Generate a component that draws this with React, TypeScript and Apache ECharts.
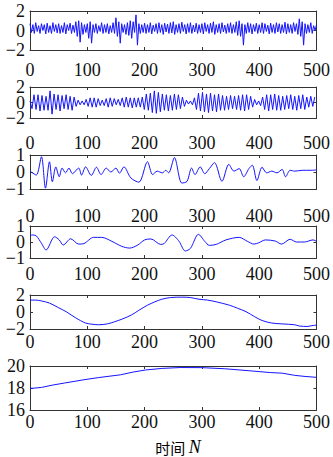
import React, { useEffect, useRef } from "react";
import * as echarts from "echarts";

// ---- data ----
const xRange = [0, 500, 100];

const imf1Step = 2.5;
const imf1 = [
  0.7,-0.2,0.6,-0.3,0.8,-0.1,0.5,-0.3,0.7,0.0,0.6,-0.35,0.75,-0.2,0.5,-0.3,0.8,-0.1,0.6,-0.25,
  0.7,-0.3,0.5,-0.2,0.8,-0.35,0.6,0.0,0.75,-0.3,0.55,-0.2,0.9,-0.6,1.0,-1.2,0.8,-0.4,0.6,-0.2,
  0.7,-0.8,0.9,-1.3,0.6,-0.2,0.7,-0.3,0.5,-0.1,0.8,-0.3,0.6,-0.2,0.7,-0.35,0.5,-0.2,0.8,-0.3,
  1.3,-0.6,0.9,-1.3,0.7,-0.2,0.6,-0.4,0.8,-0.5,1.0,-0.8,0.9,-0.2,1.6,-1.5,0.7,-0.3,0.6,-0.2,
  0.75,-0.3,0.6,-0.2,0.8,-0.35,0.55,-0.1,0.7,-0.3,0.8,-0.2,0.6,-0.4,0.75,-0.15,0.65,-0.3,0.8,-0.25,
  0.9,-0.4,0.6,-0.2,0.7,-0.3,0.85,-0.1,0.6,-0.35,0.7,-0.2,0.8,-0.3,0.55,-0.15,0.75,-0.3,0.6,-0.2,
  0.7,-0.35,0.8,-0.1,0.6,-0.3,0.75,-0.2,0.9,-0.4,0.6,-0.2,0.7,-0.3,0.8,-0.15,0.55,-0.3,0.7,-0.2,
  0.8,-0.3,0.6,-0.2,0.9,-0.5,1.0,-0.6,0.7,-1.5,0.6,-0.3,0.8,-0.2,0.7,-0.35,0.6,-0.1,0.75,-0.3,
  0.6,-0.2,0.8,-0.3,0.7,-0.1,0.55,-0.35,0.75,-0.2,0.6,-0.3,0.8,-0.15,0.7,-0.3,0.6,-0.2,0.85,-0.35,
  0.7,-0.2,0.6,-0.3,0.8,-0.1,0.7,-0.4,1.2,-0.6,0.9,-1.5,0.7,-0.3,0.6,-0.2,0.8,-0.3,0.5,0.0,
  0.6,
];

const imf2Step = 3.5;
const imf2 = [
  0.2,-0.8,1.0,-0.9,1.0,-1.1,0.9,-1.0,0.8,-1.0,1.5,-1.5,1.1,-0.9,1.0,-1.1,0.9,-0.8,1.0,-0.9,
  0.8,-1.0,0.7,-0.5,0.3,-0.3,0.2,-0.3,0.4,-0.5,0.6,-0.6,0.6,-0.6,0.5,-0.4,0.3,-0.4,0.5,-0.6,
  0.6,-0.5,0.5,-0.3,0.4,-0.4,0.6,-0.6,0.7,-0.6,0.6,-0.7,0.6,-0.6,0.6,-0.6,0.7,-0.9,1.1,-1.0,
  1.2,-1.3,1.5,-1.4,1.3,-1.2,1.1,-1.0,1.0,-1.1,0.9,-1.0,1.1,-0.9,1.0,-0.8,0.7,-0.5,0.3,-0.2,
  0.2,-0.3,0.6,-0.9,1.2,-1.1,1.3,-1.2,1.1,-1.3,1.2,-1.1,1.0,-1.2,1.1,-1.0,0.9,-1.0,0.8,-0.9,
  0.9,-0.8,0.8,-0.9,0.9,-1.0,1.0,-1.1,1.0,-0.9,0.8,-0.6,0.4,-0.3,0.2,-0.4,0.7,-0.9,1.0,-1.1,
  1.0,-0.9,1.1,-1.0,0.9,-1.0,0.8,-0.9,0.9,-0.8,1.0,-0.9,0.8,-1.0,0.9,-0.8,1.0,-0.9,0.7,-0.6,
  0.8,-0.5,0.7,
];

const imf3X = [0,2,11,20,27,34,39,45,51,56,62,68,74,85,90,97,107,116,124,133,141,150,156,164,176,190,205,214,222,231,237,242,252,265,274,282,288,297,305,313,322,335,347,356,365,373,382,388,396,405,413,422,431,440,446,454,462,475,490,500];
const imf3Y = [0.05,0.0,-0.18,0.9,-0.95,0.6,-0.57,0.3,-0.28,0.23,-0.05,0.23,-0.1,0.23,-0.18,0.3,-0.2,0.28,-0.15,0.23,0.0,0.23,-0.07,0.3,-0.35,-0.6,0.6,-0.15,0.05,-0.05,0.1,-0.05,0.85,-0.65,-0.55,0.23,-0.15,0.3,-0.1,0.2,0.55,-0.55,0.45,0.05,0.2,-0.28,0.2,0.4,-0.5,0.28,-0.05,0.05,-0.05,0.15,-0.28,0.1,0.05,0.1,0.1,0.12];

const imf4X = [0,4,11,20,28,43,51,58,71,85,94,111,125,143,160,174,188,200,211,228,234,248,260,271,280,294,305,313,325,342,365,379,391,399,411,428,439,454,465,479,494,500];
const imf4Y = [0.4,0.44,0.38,-0.08,-0.5,0.33,0.13,-0.19,0.2,-0.13,-0.1,0.29,0.29,0.04,-0.27,-0.38,-0.19,0.13,0.19,-0.15,-0.1,0.44,0.05,-0.56,-0.4,0.48,0.04,-0.21,-0.15,0.13,0.29,0.05,-0.13,-0.05,0.13,0.06,-0.13,0.17,0.0,0.0,0.13,0.04];

const imf5X = [0,10,20,34,50,63,80,97,110,120,135,148,162,177,190,205,218,230,245,265,280,295,310,325,348,362,377,392,405,422,440,462,470,485,492,500];
const imf5Y = [1.4,1.4,1.3,1.05,0.5,0.04,-0.7,-1.3,-1.45,-1.5,-1.4,-1.14,-0.8,-0.35,0.2,0.8,1.2,1.5,1.7,1.75,1.7,1.5,1.4,1.2,0.8,0.45,0.04,-0.55,-1.0,-1.3,-1.4,-1.5,-1.65,-1.7,-1.6,-1.55];

const resX = [0,5,20,40,60,94,120,158,180,202,230,262,300,340,382,420,440,462,480,500];
const resY = [17.97,17.98,18.05,18.27,18.45,18.75,18.95,19.2,19.45,19.64,19.78,19.86,19.85,19.75,19.57,19.4,19.35,19.15,19.05,18.97];

// y axis tick labels per panel
const yTicks = [
  [-2, 0, 2],
  [-2, 0, 2],
  [-1, 0, 1],
  [-1, 0, 1],
  [-2, 0, 2],
  [16, 18, 20],
];

const xLabelText = "时间";
const xLabelVar = "N";

// ---- layout ----
const gridTops = [11, 87, 155, 226, 295, 366];
const gridHeights = [39, 31, 34, 32, 34, 44];
const xLabelMargins = [13, 18, 20, 9, 6, 5];
const yLabelShifts = [4, 3, 1, 1, 2, 0];

const LINE = "#1414ff";
const AX = "#333333";
const TXT = "#111111";
const SERIF = "Liberation Serif, Times New Roman, serif";

export default function App() {
  const ref = useRef<HTMLDivElement>(null);

  useEffect(() => {
    document.body.style.margin = "0";
    document.body.style.overflow = "hidden";
    if (!ref.current) return;
    const chart = echarts.init(ref.current, undefined, { renderer: "svg" });

    const seriesData: number[][][] = [
      imf1.map((v, i) => [i * imf1Step, v]),
      imf2.map((v, i) => [i * imf2Step, v]),
      imf3X.map((x, i) => [x, imf3Y[i]]),
      imf4X.map((x, i) => [x, imf4Y[i]]),
      imf5X.map((x, i) => [x, imf5Y[i]]),
      resX.map((x, i) => [x, resY[i]]),
    ];
    const smoothFlags = [false, false, true, true, true, false];

    const grids: any[] = [];
    const xAxes: any[] = [];
    const yAxes: any[] = [];
    const series: any[] = [];

    const fmt = (v: number) => (v < 0 ? "\u2212" + Math.abs(v) : String(v));

    for (let i = 0; i < 6; i++) {
      grids.push({ left: 30, right: 11, top: gridTops[i], height: gridHeights[i] });
      const common = {
        gridIndex: i,
        type: "value",
        min: xRange[0],
        max: xRange[1],
        interval: xRange[2],
        splitLine: { show: false },
        axisLine: { show: true, onZero: false, lineStyle: { color: AX, width: 1 } },
        axisTick: { show: true, inside: true, length: 3, lineStyle: { color: AX, width: 1 } },
      };
      xAxes.push({
        ...common,
        position: "bottom",
        axisLabel: {
          show: true,
          margin: xLabelMargins[i],
          fontFamily: SERIF,
          fontSize: 18,
          lineHeight: 14,
          color: TXT,
          formatter: fmt,
          showMinLabel: true,
          showMaxLabel: true,
          hideOverlap: false,
        },
      });
      xAxes.push({ ...common, position: "top", axisLabel: { show: false } });

      const ticks = yTicks[i];
      const ymin = ticks[0];
      const ymax = ticks[ticks.length - 1];
      const yLabelStyle = {
        show: true,
        margin: 5,
        fontFamily: SERIF,
        fontSize: 18,
        lineHeight: 10,
        padding: [2 * yLabelShifts[i], 0, 0, 0],
        color: TXT,
        formatter: fmt,
        showMinLabel: true,
        showMaxLabel: true,
        hideOverlap: false,
      };
      const ycommon = {
        gridIndex: i,
        type: "value",
        min: ymin,
        max: ymax,
        interval: ticks[1] - ticks[0],
        splitLine: { show: false },
        axisLine: { show: true, onZero: false, lineStyle: { color: AX, width: 1 } },
        axisTick: {
          show: true,
          inside: true,
          length: 3,
          customValues: ticks,
          lineStyle: { color: AX, width: 1 },
        },
      };
      // left axis: box line, ticks, end labels
      yAxes.push({
        ...ycommon,
        position: "left",
        axisLabel: { ...yLabelStyle, customValues: [ymin, ymax] },
      });
      // right axis: box line + ticks
      yAxes.push({ ...ycommon, position: "right", axisLabel: { show: false } });
      // left axis: middle labels only
      yAxes.push({
        ...ycommon,
        position: "left",
        axisLine: { show: false, onZero: false },
        axisTick: { show: false },
        axisLabel: { ...yLabelStyle, customValues: ticks.slice(1, -1) },
      });

      series.push({
        type: "line",
        xAxisIndex: 2 * i,
        yAxisIndex: 3 * i,
        data: seriesData[i],
        showSymbol: false,
        symbol: "none",
        smooth: smoothFlags[i] ? 0.3 : false,
        lineStyle: { color: LINE, width: 1 },
        clip: true,
      });
    }

    chart.setOption({
      animation: false,
      backgroundColor: "#ffffff",
      grid: grids,
      xAxis: xAxes,
      yAxis: yAxes,
      series,
      graphic: [
        {
          type: "text",
          x: 178,
          y: 447,
          style: {
            text: "{a|" + xLabelText + "} {b|" + xLabelVar + "}",
            align: "center",
            verticalAlign: "middle",
            rich: {
              a: { fontFamily: "Noto Sans CJK SC", fontSize: 15, color: TXT },
              b: { fontFamily: SERIF, fontSize: 18, fontStyle: "italic", color: TXT },
            },
          },
        },
      ],
    });

    return () => chart.dispose();
  }, []);

  return <div ref={ref} style={{ width: 333, height: 457 }} />;
}
